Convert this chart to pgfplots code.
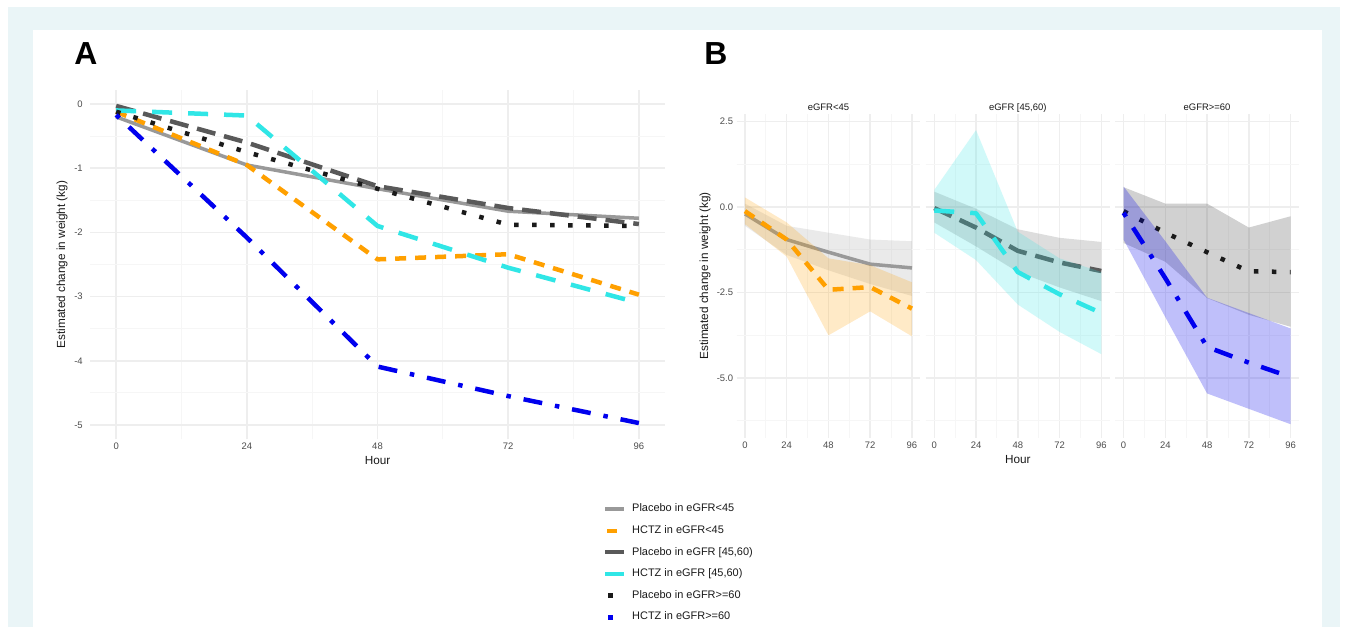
\documentclass[border=0pt]{standalone}
\usepackage{fontspec}
\setmainfont{Liberation Sans}
\usepackage{pgfplots}
\pgfplotsset{compat=1.18}

\definecolor{frameblue}{RGB}{234,245,247}
\definecolor{gridmaj}{RGB}{238,238,238}
\definecolor{gridmin}{RGB}{246,246,246}
\definecolor{tickc}{RGB}{77,77,77}
\definecolor{textc}{RGB}{26,26,26}
\definecolor{cP1}{RGB}{153,153,153}
\definecolor{cH1}{RGB}{255,160,0}
\definecolor{cP2}{RGB}{89,89,89}
\definecolor{cH2}{RGB}{48,230,230}
\definecolor{cP3}{RGB}{26,26,26}
\definecolor{cH3}{RGB}{0,0,238}

\pgfplotsset{
  gg/.style={
    scale only axis,
    xmin=-4.8, xmax=100.8,
    axis line style={draw=none},
    major tick length=0pt, minor tick length=0pt,
    grid=both,
    major grid style={draw=gridmaj, line width=1.5bp},
    minor grid style={draw=gridmin, line width=0.9bp},
    xtick={0,24,48,72,96}, xticklabels={0,24,48,72,96},
    minor xtick={12,36,60,84},
    tick label style={font=\fontsize{9.5}{10}\selectfont, text=tickc},
    label style={font=\fontsize{11.8}{12}\selectfont, text=textc},
    every axis plot/.append style={line cap=butt, line join=round},
  },
  sP1/.style={draw=cP1, line width=3.5bp, solid, mark=none},
  sH1/.style={draw=cH1, line width=4.5bp, dash pattern=on 11bp off 9bp, mark=none},
  sP2/.style={draw=cP2, line width=4.5bp, dash pattern=on 19bp off 9bp, mark=none},
  sH2/.style={draw=cH2, line width=4.5bp, dash pattern=on 20bp off 16bp, mark=none},
  sP3/.style={draw=cP3, line width=4.5bp, dash pattern=on 4.5bp off 13.5bp, mark=none},
  sH3/.style={draw=cH3, line width=4.5bp, dash pattern=on 4.5bp off 13bp on 19bp off 13bp, mark=none},
  strip/.style={title style={at={(axis description cs:0.5,1)}, anchor=base, yshift=-2.5bp, inner sep=0pt, font=\fontsize{9.5}{10}\selectfont, text=textc}},
  facet/.style={gg, anchor=south west, width=183.7bp, height=324.2bp, ymin=-6.75, ymax=2.73,
    ytick={-5,-2.5,0,2.5}, minor ytick={-6.25,-3.75,-1.25,1.25}, strip},
}

\begin{document}
\begin{tikzpicture}[x=1bp,y=1bp]
\fill[white] (0,0) rectangle (1347,627);
\fill[frameblue] (8,0) rectangle (1340,620);
\fill[white] (33,0) rectangle (1322,597);
\node[anchor=base, inner sep=0pt, font=\fontsize{32}{32}\selectfont\bfseries] at (86,562) {A};
\node[anchor=base, inner sep=0pt, font=\fontsize{32}{32}\selectfont\bfseries] at (716,562) {B};

% ---------------- Panel A ----------------
\begin{axis}[gg, at={(90bp,187.9bp)}, anchor=south west, width=575bp, height=349.2bp,
  ymin=-5.22, ymax=0.22,
  ytick={-5,-4,-3,-2,-1,0}, yticklabels={-5,-4,-3,-2,-1,0},
  minor ytick={-4.5,-3.5,-2.5,-1.5,-0.5},
  yticklabel style={xshift=-3.8bp},
  xlabel={Hour}, ylabel={Estimated change in weight (kg)},
  xlabel style={at={(axis description cs:0.5,-0.0599)}, anchor=center},
  ylabel style={at={(axis description cs:-0.0487,0.5)}, anchor=center},
  legend style={at={(0.8922,-0.1851)}, anchor=north west, draw=none, fill=none,
    inner sep=0pt, font=\fontsize{11}{11}\selectfont, text=textc,
    cells={anchor=west}, row sep=11.1bp,
    nodes={inner sep=0pt, text height=8bp, text depth=2.5bp},
    /tikz/every odd column/.append style={column sep=6bp}},
]
\addplot[sP1, legend image code/.code={\path[draw=none,fill=none] (0bp,-4bp) rectangle (19bp,4bp); \draw[cP1, solid, line width=3.5bp] (0bp,0bp) -- (19bp,0bp);}]
  coordinates {(0,-0.20) (24,-0.95) (48,-1.32) (72,-1.67) (96,-1.78)};
\addlegendentry{Placebo in eGFR<45}
\addplot[sH1, legend image code/.code={\path[draw=none,fill=none] (0bp,-4bp) rectangle (19bp,4bp); \draw[cH1, solid, line width=4.5bp] (2bp,0bp) -- (12bp,0bp);}]
  coordinates {(0,-0.12) (24,-0.95) (48,-2.42) (72,-2.34) (96,-2.97)};
\addlegendentry{HCTZ in eGFR<45}
\addplot[sP2, legend image code/.code={\path[draw=none,fill=none] (0bp,-4bp) rectangle (19bp,4bp); \draw[cP2, solid, line width=4bp] (0bp,0bp) -- (19bp,0bp);}]
  coordinates {(0,-0.03) (24,-0.60) (48,-1.28) (72,-1.62) (96,-1.87)};
\addlegendentry{Placebo in eGFR [45,60)}
\addplot[sH2, legend image code/.code={\path[draw=none,fill=none] (0bp,-4bp) rectangle (19bp,4bp); \draw[cH2, solid, line width=4bp] (0bp,0bp) -- (19bp,0bp);}]
  coordinates {(0,-0.10) (24,-0.18) (48,-1.90) (72,-2.55) (96,-3.10)};
\addlegendentry{HCTZ in eGFR [45,60)}
\addplot[sP3, legend image code/.code={\path[draw=none,fill=none] (0bp,-4bp) rectangle (19bp,4bp); \path[fill=cP3, draw=none] (2.5bp,-2.4bp) rectangle (7.3bp,2.4bp);}]
  coordinates {(0,-0.12) (24,-0.75) (48,-1.32) (72,-1.88) (96,-1.90)};
\addlegendentry{Placebo in eGFR>=60}
\addplot[sH3, legend image code/.code={\path[draw=none,fill=none] (0bp,-4bp) rectangle (19bp,4bp); \path[fill=cH3, draw=none] (2.5bp,-2.4bp) rectangle (7.3bp,2.4bp);}]
  coordinates {(0,-0.17) (24,-2.08) (48,-4.09) (72,-4.55) (96,-4.97)};
\addlegendentry{HCTZ in eGFR>=60}
\end{axis}

% ---------------- Panel B, facet 1 ----------------
\begin{axis}[facet, at={(736.6bp,189.1bp)}, title={eGFR<45},
  yticklabels={-5.0,-2.5,0.0,2.5},
  ylabel={Estimated change in weight (kg)},
  ylabel style={at={(axis description cs:-0.172,0.5)}, anchor=center}]
\addplot[fill=cP1, fill opacity=0.2, draw=none] coordinates
  {(0,0.10) (24,-0.55) (48,-0.75) (72,-0.95) (96,-1.00) (96,-2.60) (72,-2.25) (48,-1.85) (24,-1.40) (0,-0.55)} -- cycle;
\addplot[sP1] coordinates {(0,-0.20) (24,-0.95) (48,-1.32) (72,-1.67) (96,-1.78)};
\addplot[sH1] coordinates {(0,-0.12) (24,-0.95) (48,-2.42) (72,-2.34) (96,-2.97)};
\addplot[fill=cH1, fill opacity=0.22, draw=none] coordinates
  {(0,0.28) (24,-0.45) (48,-1.50) (72,-1.70) (96,-2.20) (96,-3.78) (72,-3.05) (48,-3.75) (24,-1.45) (0,-0.50)} -- cycle;
\end{axis}

% ---------------- Panel B, facet 2 ----------------
\begin{axis}[facet, at={(925.9bp,189.1bp)}, title={eGFR [45,60)},
  yticklabels={},
  xlabel={Hour},
  xlabel style={at={(axis description cs:0.5,-0.068)}, anchor=center}]
\addplot[sP2] coordinates {(0,-0.03) (24,-0.60) (48,-1.28) (72,-1.62) (96,-1.87)};
\addplot[fill=cP2, fill opacity=0.2, draw=none] coordinates
  {(0,0.45) (24,-0.05) (48,-0.65) (72,-0.90) (96,-1.02) (96,-2.75) (72,-2.35) (48,-1.90) (24,-1.15) (0,-0.45)} -- cycle;
\addplot[sH2] coordinates {(0,-0.10) (24,-0.18) (48,-1.90) (72,-2.55) (96,-3.10)};
\addplot[fill=cH2, fill opacity=0.22, draw=none] coordinates
  {(0,0.50) (24,2.25) (48,-0.72) (72,-1.50) (96,-1.90) (96,-4.30) (72,-3.65) (48,-2.85) (24,-1.55) (0,-0.75)} -- cycle;
\end{axis}

% ---------------- Panel B, facet 3 ----------------
\begin{axis}[facet, at={(1115.2bp,189.1bp)}, title={eGFR>=60},
  yticklabels={}]
\addplot[fill=cP3, fill opacity=0.2, draw=none] coordinates
  {(0,0.58) (24,0.10) (48,0.10) (72,-0.60) (96,-0.27) (96,-3.50) (72,-3.15) (48,-2.66) (24,-1.60) (0,-1.05)} -- cycle;
\addplot[sP3] coordinates {(0,-0.12) (24,-0.75) (48,-1.32) (72,-1.88) (96,-1.90)};
\addplot[sH3] coordinates {(0,-0.17) (24,-2.08) (48,-4.09) (72,-4.55) (96,-4.97)};
\addplot[fill=cH3, fill opacity=0.25, draw=none] coordinates
  {(0,0.60) (24,-1.00) (48,-2.65) (72,-3.10) (96,-3.55) (96,-6.35) (72,-5.90) (48,-5.45) (24,-3.22) (0,-0.95)} -- cycle;
\end{axis}
\end{tikzpicture}
\end{document}
